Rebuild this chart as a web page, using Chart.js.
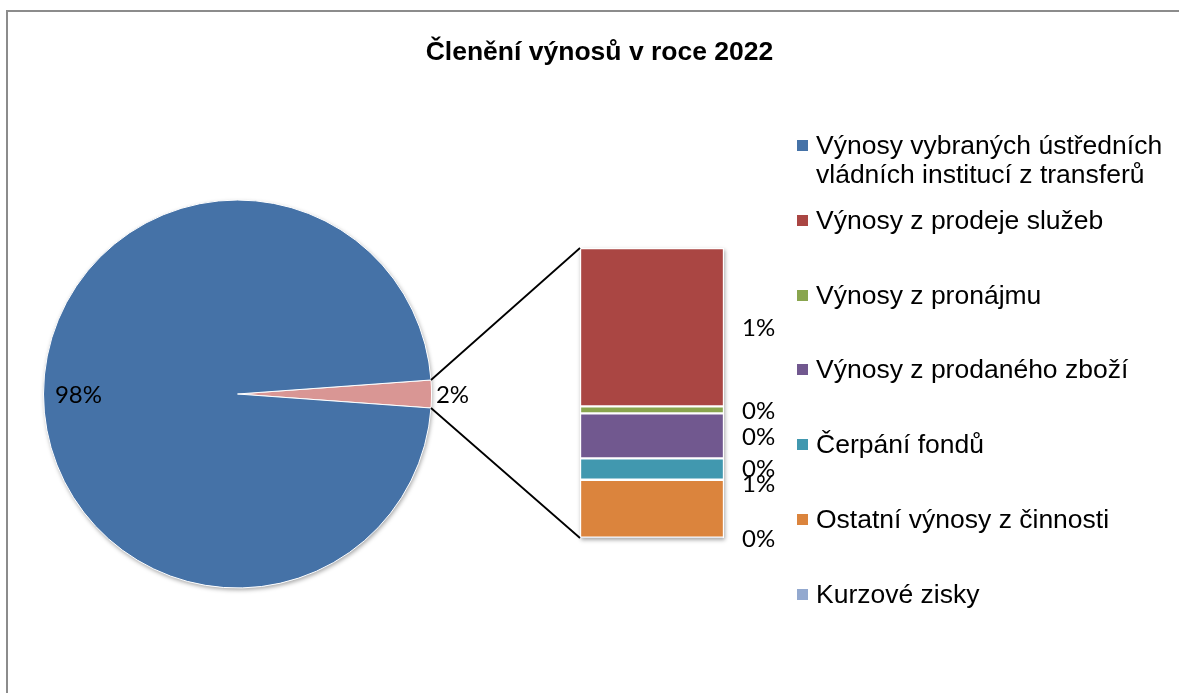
<!DOCTYPE html>
<html lang="cs">
<head>
<meta charset="utf-8">
<title>Členění výnosů v roce 2022</title>
<script src="https://cdn.jsdelivr.net/npm/chart.js@4.4.0/dist/chart.umd.min.js"></script>
<style>
  html, body { margin: 0; padding: 0; background: #fff; }
  #wrap { position: relative; width: 1179px; height: 693px; overflow: hidden; }
  #frame { position: absolute; left: 6px; top: 10px; width: 1400px; height: 900px;
           border-left: 2px solid #8c8c8c; border-top: 2px solid #8c8c8c; }
  canvas { position: absolute; left: 0; top: 0; }
  #title { position: absolute; left: 0; top: 36px; width: 1199px; text-align: center;
           font: bold 26.5px "Liberation Sans", Arial, sans-serif; line-height: 30px; color: #000; }
  .lg { position: absolute; left: 797px; width: 380px; font: 26.5px "Liberation Sans", Arial, sans-serif;
        line-height: 29px; color: #000; }
  .lg i { position: absolute; left: 0; top: 9px; width: 11px; height: 11px; }
  .lg span { display: block; margin-left: 19px; width: 358px; }
</style>
</head>
<body>
<div id="wrap">
  <div id="frame"></div>
  <canvas id="pie" width="1179" height="693"></canvas>
  <canvas id="bar" width="1179" height="693"></canvas>
  <div id="title">Členění výnosů v roce 2022</div>
  <div id="legend"></div>
</div>
<script>
// ── data (shares of total revenue, %) ─────────────────────────────────────────
const categories = [
  'Výnosy vybraných ústředních vládních institucí z transferů',
  'Výnosy z prodeje služeb',
  'Výnosy z pronájmu',
  'Výnosy z prodaného zboží',
  'Čerpání fondů',
  'Ostatní výnosy z činnosti',
  'Kurzové zisky',
];
const shares    = [97.70, 1.256, 0.055, 0.357, 0.170, 0.460, 0.002];
const barLabels = ['1%', '0%', '0%', '0%', '1%', '0%'];   // as printed next to the bar

// ── styling ───────────────────────────────────────────────────────────────────
const colors     = ['#4572A7', '#AA4643', '#89A54E', '#71588F', '#4198AF', '#DB843D', '#93A9CF'];
const otherColor = '#D99694';
const labelFont  = '24px Lato, "Open Sans", sans-serif';
const barLabelNudge = [1, 1, 1, 0, -24, 1];
const legendTops    = [131, 206, 281, 355, 430, 505, 580];

// pie = main category + the "other" slice that is split out into the bar
const otherSum = shares.slice(1).reduce((a, b) => a + b, 0);
const pieData  = [otherSum, shares[0]];
const pieTotal = pieData[0] + pieData[1];

// ── pie: shadow + percentage labels ───────────────────────────────────────────
const pieDeco = {
  id: 'pieDeco',
  beforeDatasetsDraw(chart) {
    const a = chart.getDatasetMeta(0).data[0];
    const ctx = chart.ctx;
    ctx.save();
    ctx.shadowColor = 'rgba(0,0,0,0.35)';
    ctx.shadowBlur = 4; ctx.shadowOffsetX = 1; ctx.shadowOffsetY = 2;
    ctx.fillStyle = '#fff';
    ctx.beginPath(); ctx.arc(a.x, a.y, a.outerRadius, 0, Math.PI * 2); ctx.fill();
    ctx.restore();
  },
  afterDatasetsDraw(chart) {
    const ctx = chart.ctx;
    ctx.save();
    ctx.font = labelFont; ctx.fillStyle = '#000';
    ctx.textAlign = 'center'; ctx.textBaseline = 'middle';
    chart.getDatasetMeta(0).data.forEach((arc, i) => {
      const share = pieData[i] / pieTotal;
      const mid = (arc.startAngle + arc.endAngle) / 2;
      const d = share > 0.1 ? arc.outerRadius * 0.82 : arc.outerRadius + 21;
      ctx.fillText(Math.round(share * 100) + '%', arc.x + Math.cos(mid) * d, arc.y + Math.sin(mid) * d + 1);
    });
    ctx.restore();
  },
};

const pieChart = new Chart(document.getElementById('pie'), {
  type: 'pie',
  data: {
    labels: ['Ostatní', categories[0]],
    datasets: [{ data: pieData, backgroundColor: [otherColor, colors[0]], borderColor: '#fff', borderWidth: 1 }],
  },
  options: {
    responsive: false, animation: false,
    rotation: 90 - (otherSum / pieTotal) * 180,
    layout: { padding: { left: 43, top: 199.5, right: 747, bottom: 104.5 } },
    plugins: { legend: { display: false }, tooltip: { enabled: false } },
  },
  plugins: [pieDeco],
});

// ── bar of pie: stacked column, bottom-up = last category first ──────────────
const barIdx = [6, 5, 4, 3, 2, 1];
const barSum = otherSum;

const barDeco = {
  id: 'barDeco',
  beforeDatasetsDraw(chart) {
    const { left, right, top, bottom } = chart.chartArea;
    const ctx = chart.ctx;
    ctx.save();
    ctx.shadowColor = 'rgba(0,0,0,0.35)';
    ctx.shadowBlur = 4; ctx.shadowOffsetX = 1; ctx.shadowOffsetY = 2;
    ctx.fillStyle = '#fff';
    ctx.fillRect(left, top, right - left, bottom - top);
    ctx.restore();
  },
  afterDatasetsDraw(chart) {
    const ctx = chart.ctx;
    // labels to the right of each segment
    ctx.save();
    ctx.font = labelFont; ctx.fillStyle = '#000';
    ctx.textAlign = 'left'; ctx.textBaseline = 'middle';
    barIdx.forEach((ci, di) => {
      const el = chart.getDatasetMeta(di).data[0];
      const yMid = (el.y + el.base) / 2 + barLabelNudge[ci - 1];
      ctx.fillText(barLabels[ci - 1], el.x + el.width / 2 + 18, yMid);
    });
    // connector lines from the split-out slice to the column
    const arc = pieChart.getDatasetMeta(0).data[0];
    const topEl = chart.getDatasetMeta(barIdx.length - 1).data[0];
    const botEl = chart.getDatasetMeta(0).data[0];
    const bx = topEl.x - topEl.width / 2;
    ctx.strokeStyle = '#000'; ctx.lineWidth = 1.8;
    ctx.beginPath();
    ctx.moveTo(arc.x + Math.cos(arc.startAngle) * arc.outerRadius, arc.y + Math.sin(arc.startAngle) * arc.outerRadius);
    ctx.lineTo(bx, topEl.y);
    ctx.moveTo(arc.x + Math.cos(arc.endAngle) * arc.outerRadius, arc.y + Math.sin(arc.endAngle) * arc.outerRadius);
    ctx.lineTo(bx, botEl.base);
    ctx.stroke();
    ctx.restore();
  },
};

new Chart(document.getElementById('bar'), {
  type: 'bar',
  data: {
    labels: [''],
    datasets: barIdx.map(i => ({
      label: categories[i], data: [shares[i]], backgroundColor: colors[i],
      borderColor: '#fff', borderWidth: 1.5, borderSkipped: false,
      barPercentage: 1, categoryPercentage: 1,
    })),
  },
  options: {
    responsive: false, animation: false,
    layout: { padding: { left: 580, right: 455, top: 248, bottom: 155 } },
    scales: {
      x: { display: false, stacked: true },
      y: { display: false, stacked: true, min: 0, max: barSum },
    },
    plugins: { legend: { display: false }, tooltip: { enabled: false } },
  },
  plugins: [barDeco],
});

// ── legend ────────────────────────────────────────────────────────────────────
const legend = document.getElementById('legend');
categories.forEach((name, i) => {
  const d = document.createElement('div');
  d.className = 'lg';
  d.style.top = legendTops[i] + 'px';
  d.innerHTML = `<i style="background:${colors[i]}"></i><span>${name}</span>`;
  legend.appendChild(d);
});
</script>
</body>
</html>
